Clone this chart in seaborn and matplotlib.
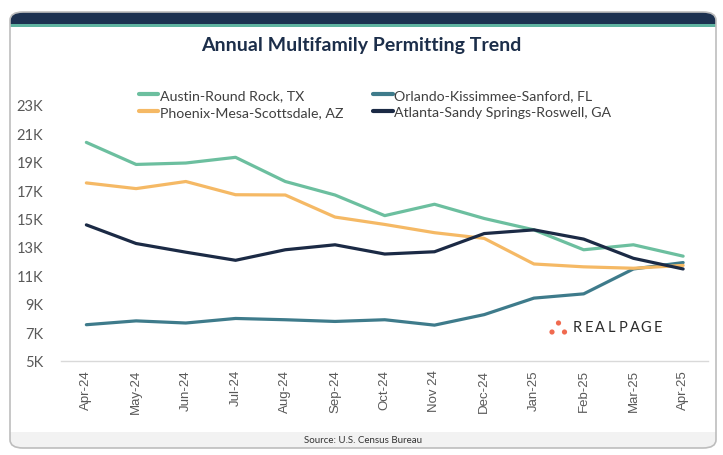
import matplotlib
matplotlib.use("Agg")
import matplotlib.pyplot as plt
from matplotlib.patches import FancyBboxPatch, Rectangle, Ellipse
from matplotlib.ticker import FuncFormatter
from matplotlib.lines import Line2D
import seaborn as sns
import pandas as pd

months = ["Apr-24", "May-24", "Jun-24", "Jul-24", "Aug-24", "Sep-24", "Oct-24",
          "Nov 24", "Dec-24", "Jan-25", "Feb-25", "Mar-25", "Apr-25"]
austin = [20.35, 18.8, 18.9, 19.3, 17.6, 16.65, 15.2, 16.0, 15.0, 14.2, 12.8, 13.15, 12.35]
orlando = [7.53, 7.8, 7.65, 7.97, 7.88, 7.76, 7.88, 7.5, 8.24, 9.4, 9.7, 11.45, 11.9]
phoenix = [17.5, 17.1, 17.6, 16.67, 16.65, 15.1, 14.58, 14.0, 13.6, 11.8, 11.6, 11.5, 11.7]
atlanta = [14.55, 13.24, 12.63, 12.06, 12.8, 13.15, 12.5, 12.66, 13.94, 14.2, 13.55, 12.2, 11.45]

series_names = ["Austin-Round Rock, TX", "Orlando-Kissimmee-Sanford, FL",
                "Phoenix-Mesa-Scottsdale, AZ", "Atlanta-Sandy Springs-Roswell, GA"]
series_vals = [austin, orlando, phoenix, atlanta]
colors = ["#6cbf9f", "#3e7b8b", "#f5b965", "#1b2a45"]
yticks = list(range(5, 24, 2))

rows = []
for name, vals in zip(series_names, series_vals):
    for i, v in enumerate(vals):
        rows.append({"series": name, "idx": i, "value": v * 1000})
df = pd.DataFrame(rows)

sns.set_theme(style="white")
plt.rcParams["font.family"] = ["Lato", "DejaVu Sans"]

W, H = 723, 456
fig = plt.figure(figsize=(W / 100, H / 100), dpi=100)
fig.patch.set_facecolor("white")

def fx(x):
    return x / W

def fy(y):
    return 1 - y / H

# Card background
L, R, T, B = 10, 716, 13, 449
card = FancyBboxPatch((fx(L), fy(B)), fx(R - L), (B - T) / H,
                      boxstyle="round,pad=0,rounding_size=0.018",
                      transform=fig.transFigure, facecolor="white", edgecolor="none", zorder=0)
fig.patches.append(card)
hdr = FancyBboxPatch((fx(L), fy(40)), fx(R - L), (40 - T) / H,
                     boxstyle="round,pad=0,rounding_size=0.018",
                     transform=fig.transFigure, facecolor="#1c3150", edgecolor="none", zorder=1)
fig.patches.append(hdr)
fig.patches.append(Rectangle((fx(L), fy(28)), fx(R - L), 3 / H, transform=fig.transFigure,
                             facecolor="#5fb3a0", edgecolor="none", zorder=2))
fig.patches.append(Rectangle((fx(L), fy(41)), fx(R - L), 13 / H, transform=fig.transFigure,
                             facecolor="white", edgecolor="none", zorder=2))
ftr = FancyBboxPatch((fx(L), fy(B)), fx(R - L), (B - 420) / H,
                     boxstyle="round,pad=0,rounding_size=0.018",
                     transform=fig.transFigure, facecolor="#f2f2f2", edgecolor="none", zorder=1)
fig.patches.append(ftr)
fig.patches.append(Rectangle((fx(L), fy(433)), fx(R - L), 13 / H, transform=fig.transFigure,
                             facecolor="white", edgecolor="none", zorder=2))
edge = FancyBboxPatch((fx(L), fy(B)), fx(R - L), (B - T) / H,
                      boxstyle="round,pad=0,rounding_size=0.018",
                      transform=fig.transFigure, facecolor="none", edgecolor="#bdbdbd",
                      linewidth=1.2, zorder=3)
fig.patches.append(edge)

# Axes
ax_l, ax_r, ax_t, ax_b = 60.5, 708, 105.7, 361.7
ax = fig.add_axes([fx(ax_l), fy(ax_b), fx(ax_r - ax_l), (ax_b - ax_t) / H])
ax.set_facecolor("none")
ax.set_zorder(5)

sns.lineplot(data=df, x="idx", y="value", hue="series", hue_order=series_names,
             palette=colors, linewidth=2.3, ax=ax, legend=False)

ax.set_xlim(-0.52, 12.5)
ax.set_ylim(5000, 23000)
ax.set_yticks([t * 1000 for t in yticks])
ax.yaxis.set_major_formatter(FuncFormatter(lambda v, p: f"{int(round(v / 1000))}K"))
ax.set_xticks(range(len(months)))
ax.set_xticklabels(months, rotation=90, fontfamily=["Liberation Sans", "DejaVu Sans"],
                   fontsize=9.5, color="#595959")
for lab in ax.get_yticklabels():
    lab.set_fontsize(10.5)
    lab.set_color("#595959")
ax.tick_params(axis="y", length=0, pad=12.5)
ax.tick_params(axis="x", length=0, pad=6)
ax.set_xlabel("")
ax.set_ylabel("")
for s in ["top", "right", "left"]:
    ax.spines[s].set_visible(False)
ax.spines["bottom"].set_color("#d9d9d9")
ax.spines["bottom"].set_linewidth(1)
ax.grid(False)

# Legend
handles = [Line2D([0], [0], color=c, lw=3) for c in colors]
order = [0, 2, 1, 3]
leg = fig.legend([handles[i] for i in order], [series_names[i] for i in order],
                 ncol=2, loc="upper left", bbox_to_anchor=(fx(138.5), fy(90)),
                 frameon=False, fontsize=10.2, handlelength=1.4, handletextpad=0.1,
                 columnspacing=2.1, labelspacing=0.36, borderpad=0, borderaxespad=0)
for t in leg.get_texts():
    t.set_color("#404040")

# Title
fig.text(0.5, fy(45), "Annual Multifamily Permitting Trend", ha="center", va="center",
         fontsize=14, fontweight="bold", color="#1c2e4a")
# Source
fig.text(fx(363), fy(441), "Source: U.S. Census Bureau", ha="center", va="center",
         fontsize=7, color="#333333")

# Logo
for (cx, cy) in [(552, 333), (558.5, 324), (564.5, 333)]:
    fig.patches.append(Ellipse((fx(cx), fy(cy)), 5.2 / W, 5.2 / H, transform=fig.transFigure,
                               facecolor="#f06a4f", edgecolor="none", zorder=6))
letters = "REALPAGE"
c0 = 577
step = 11.5
for i, ch in enumerate(letters):
    fig.text(fx(c0 + i * step), fy(328.5), ch, ha="center", va="center", fontsize=10.5,
             color="#2b2b2b", fontfamily=["Lato", "DejaVu Sans"], zorder=6)

fig.savefig("out.png", dpi=100, facecolor="white")
